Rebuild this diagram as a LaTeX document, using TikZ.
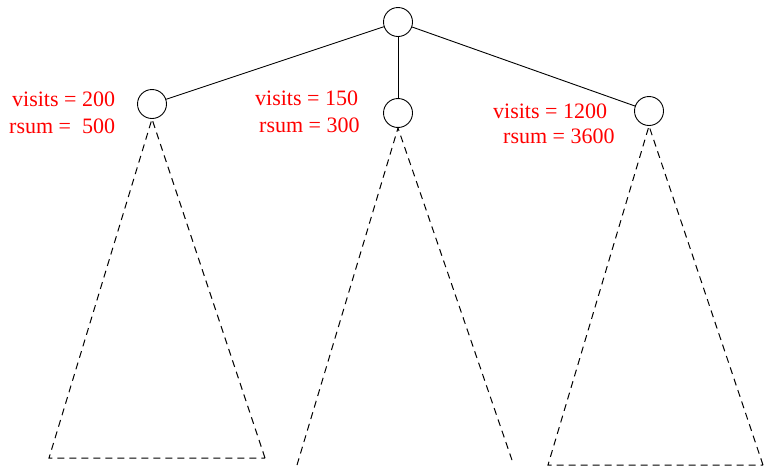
\documentclass[tikz,border=0pt]{standalone}
\usepackage{fontspec}
\setmainfont{Liberation Serif}
\usetikzlibrary{positioning}

\begin{document}
\begin{tikzpicture}[
  x=1pt, y=-1pt,
  vertex/.style={circle, draw, line width=0.9pt, minimum size=29pt, inner sep=0pt},
  edge/.style={draw, line width=0.9pt},
  subtree/.style={draw, line width=1pt, dash pattern=on 7pt off 5pt},
  stat/.style={anchor=base west, inner sep=0pt, text=red, font=\fontsize{22}{26}\selectfont},
]
  \useasboundingbox (0,0) rectangle (765,467);

  % search tree: root and its three children
  \node[vertex] (root) at (398,22) {};
  \node[vertex] (left) at (152,104) {};
  \node[vertex] (mid) at (398,113) {};
  \node[vertex] (right) at (649,111) {};

  \draw[edge] (root) -- (left);
  \draw[edge] (root) -- (mid);
  \draw[edge] (root) -- (right);

  % visit counts and reward sums
  \node[stat] (visitsL) at (12,106) {visits = 200};
  \node[stat] (rsumL) at (9,133) {rsum =\ \ 500};
  \node[stat] (visitsM) at (255,105) {visits = 150};
  \node[stat] (rsumM) at (259,132) {rsum = 300};
  \node[stat] (visitsR) at (493,118) {visits = 1200};
  \node[stat] (rsumR) at (503,143) {rsum = 3600};

  % subtrees below each child
  \coordinate (leftBL) at (49,458);
  \coordinate (leftBR) at (265,458);
  \coordinate (midBL) at (297,465);
  \coordinate (midBR) at (513,463);
  \coordinate (rightBL) at (548,465);
  \coordinate (rightBR) at (763,465);

  \draw[subtree] (leftBR) -- (left.south) -- (leftBL) -- cycle;
  \draw[subtree] (midBL) -- (mid.south) -- (midBR);
  \draw[subtree] (rightBR) -- (right.south) -- (rightBL) -- cycle;
\end{tikzpicture}
\end{document}
